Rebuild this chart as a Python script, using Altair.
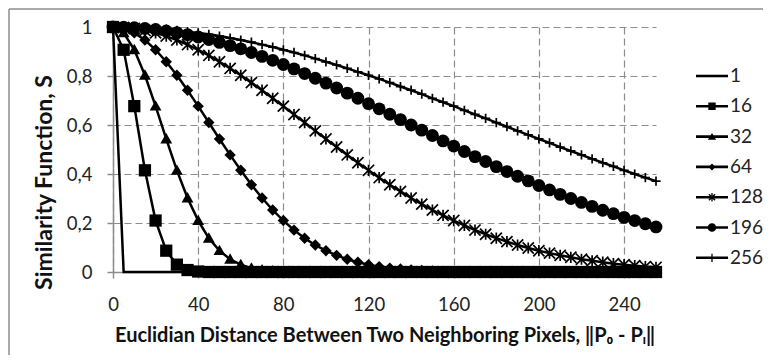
import math
import altair as alt
import pandas as pd

# ---------------- data ----------------
distance = [0, 5, 10, 15, 20, 25, 30, 35, 40, 45, 50, 55, 60, 65, 70, 75, 80, 85, 90, 95,
            100, 105, 110, 115, 120, 125, 130, 135, 140, 145, 150, 155, 160, 165, 170, 175,
            180, 185, 190, 195, 200, 205, 210, 215, 220, 225, 230, 235, 240, 245, 250, 255]

series_names = ["1", "16", "32", "64", "128", "196", "256"]

s_1 = [1, 0, 0, 0, 0, 0, 0, 0, 0, 0, 0, 0, 0, 0, 0, 0, 0, 0, 0, 0,
       0, 0, 0, 0, 0, 0, 0, 0, 0, 0, 0, 0, 0, 0, 0, 0, 0, 0, 0, 0,
       0, 0, 0, 0, 0, 0, 0, 0, 0, 0, 0, 0]
s_16 = [1, 0.907, 0.677, 0.415, 0.21, 0.087, 0.03, 0.008, 0.002, 0, 0, 0, 0, 0, 0, 0, 0, 0, 0, 0,
        0, 0, 0, 0, 0, 0, 0, 0, 0, 0, 0, 0, 0, 0, 0, 0, 0, 0, 0, 0,
        0, 0, 0, 0, 0, 0, 0, 0, 0, 0, 0, 0]
s_32 = [1, 0.976, 0.907, 0.803, 0.677, 0.543, 0.415, 0.302, 0.21, 0.138, 0.087, 0.052, 0.03,
        0.016, 0.008, 0.004, 0.002, 0.001, 0, 0, 0, 0, 0, 0, 0, 0, 0, 0, 0, 0, 0, 0, 0, 0, 0, 0,
        0, 0, 0, 0, 0, 0, 0, 0, 0, 0, 0, 0, 0, 0, 0, 0]
s_64 = [1, 0.994, 0.976, 0.947, 0.907, 0.858, 0.803, 0.742, 0.677, 0.61, 0.543, 0.478, 0.415,
        0.356, 0.302, 0.253, 0.21, 0.171, 0.138, 0.11, 0.087, 0.068, 0.052, 0.04, 0.03, 0.022,
        0.016, 0.012, 0.008, 0.006, 0.004, 0.003, 0.002, 0.001, 0.001, 0.001,
        0, 0, 0, 0, 0, 0, 0, 0, 0, 0, 0, 0, 0, 0, 0, 0]
s_128 = [1, 0.998, 0.994, 0.986, 0.976, 0.963, 0.947, 0.928, 0.907, 0.884, 0.858, 0.831, 0.803,
         0.773, 0.742, 0.709, 0.677, 0.643, 0.61, 0.576, 0.543, 0.51, 0.478, 0.446, 0.415, 0.385,
         0.356, 0.329, 0.302, 0.277, 0.253, 0.231, 0.21, 0.19, 0.171, 0.154, 0.138, 0.124, 0.11,
         0.098, 0.087, 0.077, 0.068, 0.06, 0.052, 0.046, 0.04, 0.034, 0.03, 0.026, 0.022, 0.019]
s_196 = [1, 0.999, 0.997, 0.994, 0.99, 0.984, 0.977, 0.969, 0.959, 0.949, 0.937, 0.924, 0.911,
         0.896, 0.88, 0.864, 0.847, 0.829, 0.81, 0.791, 0.771, 0.751, 0.73, 0.709, 0.687, 0.666,
         0.644, 0.622, 0.6, 0.579, 0.557, 0.535, 0.514, 0.492, 0.471, 0.451, 0.43, 0.41, 0.391,
         0.372, 0.353, 0.335, 0.317, 0.3, 0.284, 0.268, 0.252, 0.238, 0.223, 0.21, 0.197, 0.184]
s_256 = [1, 1.0, 0.998, 0.997, 0.994, 0.991, 0.986, 0.981, 0.976, 0.97, 0.963, 0.955, 0.947,
         0.938, 0.928, 0.918, 0.907, 0.896, 0.884, 0.871, 0.858, 0.845, 0.831, 0.817, 0.803, 0.788,
         0.773, 0.757, 0.742, 0.726, 0.709, 0.693, 0.677, 0.66, 0.643, 0.627, 0.61, 0.593, 0.576,
         0.56, 0.543, 0.527, 0.51, 0.494, 0.478, 0.462, 0.446, 0.431, 0.415, 0.4, 0.385, 0.371]

x_ticks = [0, 40, 80, 120, 160, 200, 240]
y_ticks = [0, 0.2, 0.4, 0.6, 0.8, 1]

all_series = [s_1, s_16, s_32, s_64, s_128, s_196, s_256]
for s in all_series:
    assert len(s) == len(distance)

rows = []
for name, vals in zip(series_names, all_series):
    for d, v in zip(distance, vals):
        rows.append({"series": name, "d": d, "S": v})
df = pd.DataFrame(rows)

# ---------------- symbol paths (styling) ----------------
def rect(x0, y0, x1, y1):
    return f"M{x0},{y0}H{x1}V{y1}H{x0}Z"

def rot_rect(angle, L, t):
    a = math.radians(angle)
    ux, uy = math.cos(a), math.sin(a)
    nx, ny = -math.sin(a), math.cos(a)
    pts = [(-L * ux - t * nx, -L * uy - t * ny), (L * ux - t * nx, L * uy - t * ny),
           (L * ux + t * nx, L * uy + t * ny), (-L * ux + t * nx, -L * uy + t * ny)]
    return "M" + "L".join(f"{px:.3f},{py:.3f}" for px, py in pts) + "Z"

def circ(r):
    return f"M{-r},0A{r},{r} 0 1,1 {r},0A{r},{r} 0 1,1 {-r},0Z"

LINE = rect(-1, -0.08, 1, 0.08)
legend_paths = [
    LINE,
    LINE + rect(-0.23, -0.23, 0.23, 0.23),
    LINE + "M0,-0.22L0.26,0.2L-0.26,0.2Z",
    LINE + "M0,-0.22L0.22,0L0,0.22L-0.22,0Z",
    LINE + rect(-0.04, -0.27, 0.04, 0.27) + rot_rect(45, 0.27, 0.045) + rot_rect(-45, 0.27, 0.045),
    LINE + circ(0.27),
    LINE + rect(-0.04, -0.26, 0.04, 0.26),
]

marker_styles = {
    "16": dict(shape="M-1,-1H1V1H-1Z", size=150, filled=True, strokeWidth=0),
    "32": dict(shape="M0,-1L1,0.75L-1,0.75Z", size=140, filled=True, strokeWidth=0),
    "64": dict(shape="M0,-1L1,0L0,1L-1,0Z", size=130, filled=True, strokeWidth=0),
    "128": dict(shape="M-1,-1L1,1M-1,1L1,-1M0,-1V1", size=125, filled=False, strokeWidth=1.7),
    "196": dict(shape="circle", size=165, filled=True, strokeWidth=0),
    "256": dict(shape="M0,-1V1M-1,0H1", size=85, filled=False, strokeWidth=1.7),
}

FONT = "Lato"
GRAY = "#8c8c8c"

x_enc = alt.X("d:Q", scale=alt.Scale(domain=[0, 255], nice=False),
              axis=alt.Axis(values=x_ticks, title="Euclidian Distance Between Two Neighboring Pixels, \u2016P\u2080 - P\u1d62\u2016",
                            labelPadding=17, titlePadding=12, labelFlush=False))
y_enc = alt.Y("S:Q", scale=alt.Scale(domain=[0, 1], nice=False),
              axis=alt.Axis(values=y_ticks, title="Similarity Function, S",
                            labelPadding=15, titlePadding=10, titleY=155,
                            labelExpr="datum.value == 0 ? '0' : datum.value == 1 ? '1' : replace(format(datum.value, '.1f'), '.', ',')"))

base = alt.Chart(df)
layers = []

# legend-only layer (invisible marks)
legend_layer = base.transform_filter("datum.d == 0").mark_point(filled=True, opacity=0, color="black").encode(
    x=x_enc, y=y_enc,
    shape=alt.Shape("series:N", scale=alt.Scale(domain=series_names, range=legend_paths),
                    legend=alt.Legend(title=None, orient="none", legendX=583, legendY=33,
                                      symbolSize=1024, symbolStrokeWidth=0, symbolFillColor="black",
                                      symbolOpacity=1, labelFontSize=19, labelFont=FONT, labelColor="#222",
                                      rowPadding=4.3, labelOffset=2, padding=0)),
)
layers.append(legend_layer)

for name in series_names:
    sub = base.transform_filter(alt.datum.series == name)
    layers.append(sub.mark_line(color="black", strokeWidth=2.5).encode(x=x_enc, y=y_enc, order="d:Q"))
    if name in marker_styles:
        st = marker_styles[name]
        layers.append(sub.mark_point(color="black", opacity=1, **st).encode(x=x_enc, y=y_enc))

border_df = pd.DataFrame({"k": [0]})
border_v = alt.Chart(border_df).mark_rule(color=GRAY, strokeWidth=1.5).encode(
    x=alt.value(-104), y=alt.value(-18), y2=alt.value(400))
border_h = alt.Chart(border_df).mark_rule(color=GRAY, strokeWidth=1.5).encode(
    x=alt.value(-104), x2=alt.value(800), y=alt.value(-18))
layers += [border_v, border_h]

chart = alt.layer(*layers).properties(
    width=543, height=245,
    autosize=alt.AutoSizeParams(type="none"),
    padding={"left": 105, "top": 19, "right": 107, "bottom": 83},
).configure_view(stroke=None).configure_axis(
    grid=True, gridDash=[7, 4], gridColor=GRAY, gridWidth=1.2,
    domainColor=GRAY, domainWidth=1.5, tickColor=GRAY, tickSize=6, tickWidth=1.5,
    labelFont=FONT, labelFontSize=18.5, labelColor="#222",
    titleFont=FONT, titleFontSize=20, titleFontWeight="bold", titleColor="#111",
).configure_axisY(titleFontSize=23)

chart.save("out.html", embed_options={"renderer": "svg", "actions": False})
